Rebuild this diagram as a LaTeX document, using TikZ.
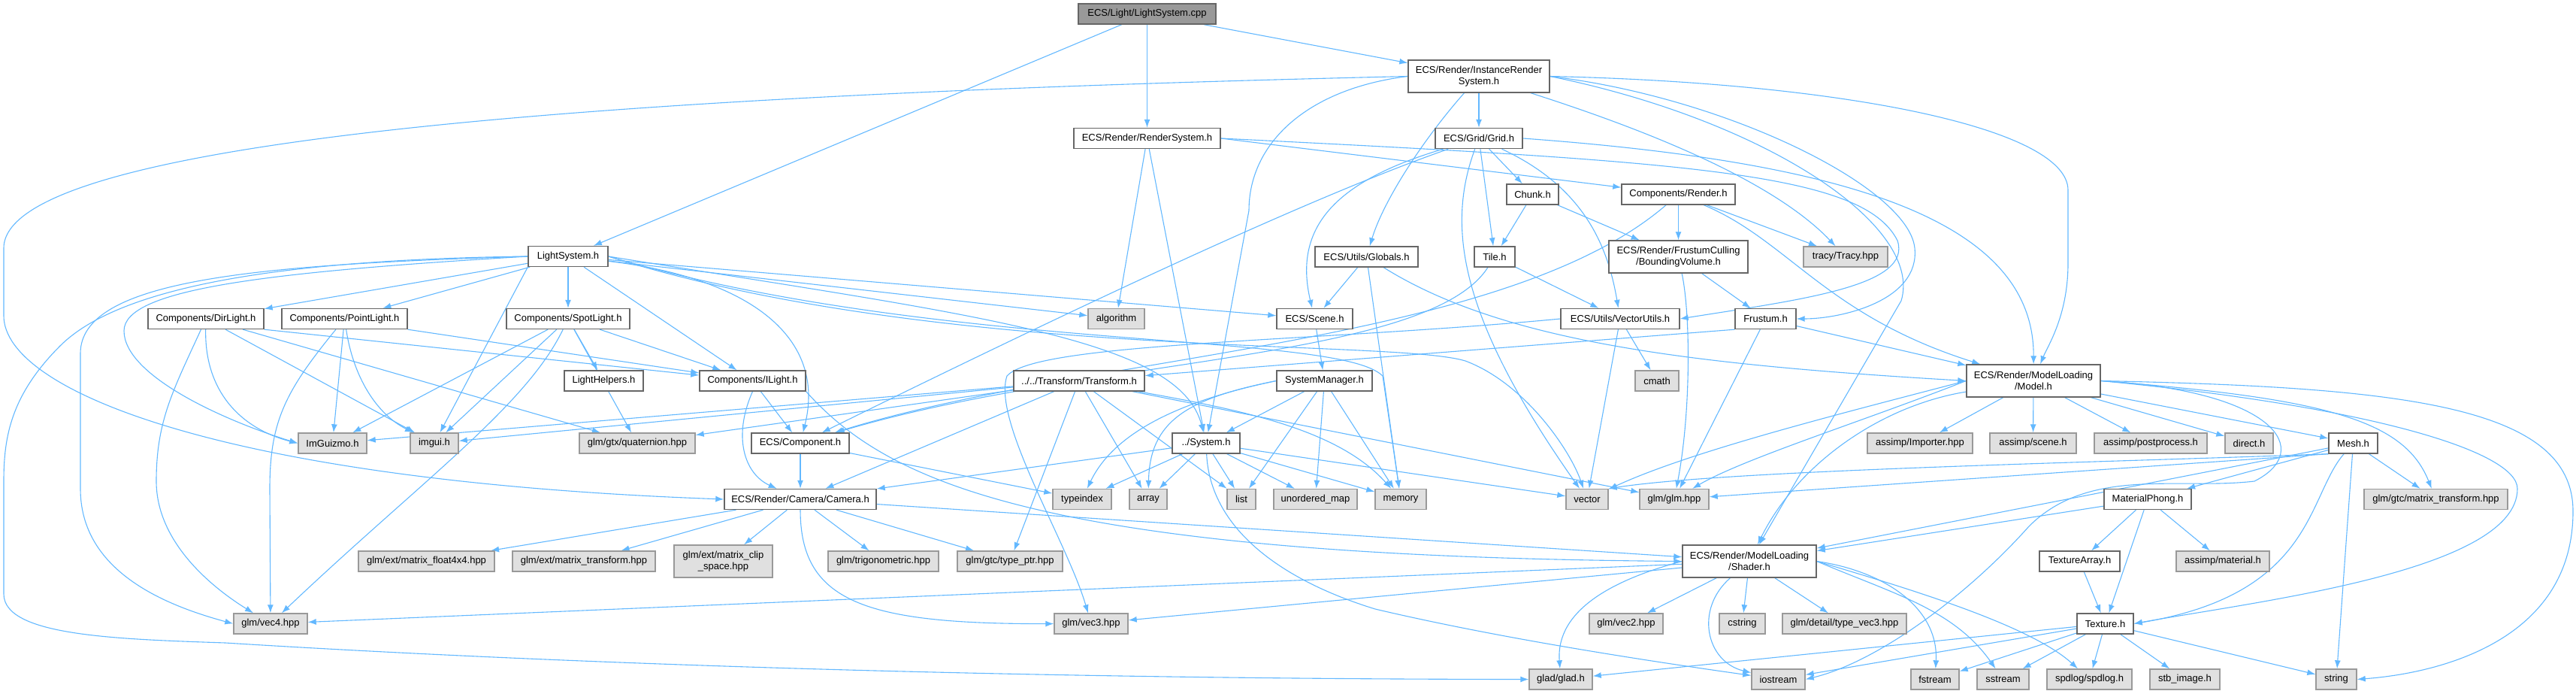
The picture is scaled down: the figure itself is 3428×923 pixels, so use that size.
\documentclass[tikz,border=0pt]{standalone}
\usepackage{fontspec}
\setmainfont{Liberation Sans}
\usepackage{tikz}
\usetikzlibrary{arrows.meta,backgrounds}

\definecolor{edgeblue}{HTML}{63B8FF}
\definecolor{boxline}{HTML}{666666}
\definecolor{sysline}{HTML}{999999}
\definecolor{sysfill}{HTML}{E0E0E0}
\definecolor{rootfill}{HTML}{999999}

\begin{document}
\begin{tikzpicture}[x=1pt, y=-1pt, >={Latex[length=11pt,width=8pt]},
    hdr/.style={rectangle, draw=boxline, fill=white, line width=1.4pt, minimum width=#1, minimum height=27, inner sep=2pt, font=\fontsize{13}{15.5}\selectfont, align=center},
    sys/.style={hdr=#1, draw=sysline, fill=sysfill},
    root/.style={hdr=#1, fill=rootfill},
    tall/.style={minimum height=43},
    ar/.style={->, draw=edgeblue, line width=1.1pt}]
    \useasboundingbox (0,0) rectangle (3428,923);

    % files of the project
    \node[root=183] (cpp) at (1526.5,18.5) {ECS/Light/LightSystem.cpp};
    \node[hdr=188, tall] (IRS) at (1968,101.5) {ECS/Render/InstanceRender\\System.h};
    \node[hdr=195] (RS) at (1526.5,184) {ECS/Render/RenderSystem.h};
    \node[hdr=116] (Grid) at (1968,184) {ECS/Grid/Grid.h};
    \node[hdr=69] (Chunk) at (2039.5,258.5) {Chunk.h};
    \node[hdr=151] (CRender) at (2233.5,258.5) {Components/Render.h};
    \node[hdr=106] (LS) at (756,341) {LightSystem.h};
    \node[hdr=137] (Globals) at (1818.5,341.5) {ECS/Utils/Globals.h};
    \node[hdr=54] (Tile) at (1989,341.5) {Tile.h};
    \node[hdr=185, tall] (BVol) at (2233.5,341.5) {ECS/Render/FrustumCulling\\/BoundingVolume.h};
    \node[hdr=154] (DirL) at (274,424) {Components/DirLight.h};
    \node[hdr=167] (PointL) at (458.5,424) {Components/PointLight.h};
    \node[hdr=164] (SpotL) at (756,424) {Components/SpotLight.h};
    \node[hdr=101] (Scene) at (1749.5,424) {ECS/Scene.h};
    \node[hdr=158] (VecU) at (2156,424) {ECS/Utils/VectorUtils.h};
    \node[hdr=81] (Frustum) at (2349.5,424) {Frustum.h};
    \node[hdr=105] (LHelp) at (803.5,506.5) {LightHelpers.h};
    \node[hdr=141] (ILight) at (1001.5,506.5) {Components/ILight.h};
    \node[hdr=174] (Transf) at (1436,506.5) {../../Transform/Transform.h};
    \node[hdr=127] (SysMgr) at (1762.5,506.5) {SystemManager.h};
    \node[hdr=178, tall] (Model) at (2706,506.5) {ECS/Render/ModelLoading\\/Model.h};
    \node[hdr=130] (Comp) at (1065,589.5) {ECS/Component.h};
    \node[hdr=90] (Sys) at (1605,589.5) {../System.h};
    \node[hdr=65] (Mesh) at (3131.5,589.5) {Mesh.h};
    \node[hdr=202] (Camera) at (1065,664) {ECS/Render/Camera/Camera.h};
    \node[hdr=116] (MatPh) at (2858,664) {MaterialPhong.h};
    \node[hdr=178, tall] (Shader) at (2328,746.5) {ECS/Render/ModelLoading\\/Shader.h};
    \node[hdr=107] (TexArr) at (2767.5,746.5) {TextureArray.h};
    \node[hdr=75] (Texture) at (2801.5,829.5) {Texture.h};

    % system and library headers
    \node[sys=75] (algo) at (1485.5,424) {algorithm};
    \node[sys=112] (tracy) at (2456,341.5) {tracy/Tracy.hpp};
    \node[sys=58] (cmath) at (2205,506.5) {cmath};
    \node[sys=91] (ImGz) at (442.5,589.5) {ImGuizmo.h};
    \node[sys=64] (imgui) at (578,589.5) {imgui.h};
    \node[sys=154] (quat) at (848,589.5) {glm/gtx/quaternion.hpp};
    \node[sys=140] (Importer) at (2555,589.5) {assimp/Importer.hpp};
    \node[sys=115] (aiscene) at (2705.5,589.5) {assimp/scene.h};
    \node[sys=150] (postproc) at (2862,589.5) {assimp/postprocess.h};
    \node[sys=64] (direct) at (2993,589.5) {direct.h};
    \node[sys=78] (typeidx) at (1440,664) {typeindex};
    \node[sys=50] (array) at (1528,664) {array};
    \node[sys=38] (list) at (1652,664) {list};
    \node[sys=111] (umap) at (1750.5,664) {unordered\_map};
    \node[sys=68] (memory) at (1864,664) {memory};
    \node[sys=56] (vector) at (2112,664) {vector};
    \node[sys=92] (glmhpp) at (2228,664) {glm/glm.hpp};
    \node[sys=191] (gtcmt) at (3241.5,664) {glm/gtc/matrix\_transform.hpp};
    \node[sys=181] (mf4x4) at (567.5,746.5) {glm/ext/matrix\_float4x4.hpp};
    \node[sys=190] (extmt) at (777,746.5) {glm/ext/matrix\_transform.hpp};
    \node[sys=131, tall] (clip) at (962.5,746.5) {glm/ext/matrix\_clip\\\_space.hpp};
    \node[sys=147] (trig) at (1175.5,746.5) {glm/trigonometric.hpp};
    \node[sys=140] (typeptr) at (1344,746.5) {glm/gtc/type\_ptr.hpp};
    \node[sys=124] (aimat) at (2958,746.5) {assimp/material.h};
    \node[sys=98] (vec4) at (360,829.5) {glm/vec4.hpp};
    \node[sys=98] (vec3) at (1452,829.5) {glm/vec3.hpp};
    \node[sys=98] (vec2) at (2164,829.5) {glm/vec2.hpp};
    \node[sys=61] (cstring) at (2318.5,829.5) {cstring};
    \node[sys=165] (tvec3) at (2454.5,829.5) {glm/detail/type\_vec3.hpp};
    \node[sys=84] (glad) at (2077,903.5) {glad/glad.h};
    \node[sys=71] (iostream) at (2366.5,903.5) {iostream};
    \node[sys=64] (fstream) at (2575,903.5) {fstream};
    \node[sys=69] (sstream) at (2665.5,903.5) {sstream};
    \node[sys=113] (spdlog) at (2780.5,903.5) {spdlog/spdlog.h};
    \node[sys=93] (stbimg) at (2907.5,903.5) {stb\_image.h};
    \node[sys=54] (string) at (3109,903.5) {string};

    \begin{scope}[on background layer]
    % root file
    \draw[ar] (cpp) -- (LS);
    \draw[ar] (cpp) -- (RS);
    \draw[ar] (cpp) -- (IRS);
    % LightSystem.h
    \draw[ar] (LS) -- (DirL);
    \draw[ar] (LS) -- (PointL);
    \draw[ar] (LS) -- (SpotL);
    \draw[ar] (LS) -- (ILight);
    \draw[ar] (LS) -- (algo);
    \draw[ar] (LS) -- (Scene);
    \draw[ar] (LS.south west) -- (imgui);
    \draw[ar] (LS.west) .. controls (350,362) and (165,385) .. (165,440) .. controls (165,500) and (300,560) .. (ImGz.west);
    \draw[ar] (LS.west) .. controls (340,352) and (107,372) .. (107,470) -- (107,650) .. controls (107,760) and (220,805) .. (vec4.west);
    \draw[ar] (LS.west) .. controls (380,345) and (160,380) .. (80,460) .. controls (15,525) and (5,580) .. (5,640) -- (5,790) .. controls (5,845) and (150,850) .. (300,855) .. controls (700,880) and (1300,903) .. (glad.west);
    \draw[ar] (LS) .. controls (1000,370) and (1100,450) .. (Comp);
    \draw[ar] (LS.east) .. controls (1300,420) and (1570,450) .. (Sys);
    \draw[ar] (LS.east) .. controls (1250,470) and (1780,440) .. (1840,500) -- (memory);
    \draw[ar] (LS.east) .. controls (1250,480) and (1850,450) .. (1950,480) .. controls (2030,510) and (2090,600) .. (vector);
    % RenderSystem.h
    \draw[ar] (RS) -- (algo);
    \draw[ar] (RS) -- (Sys);
    \draw[ar] (RS.east) -- (CRender);
    \draw[ar] (RS.east) .. controls (2250,215) and (2480,230) .. (2525,320) .. controls (2545,380) and (2400,398) .. (VecU.east);
    % InstanceRenderSystem.h
    \draw[ar] (IRS) -- (Grid);
    \draw[ar] (IRS) .. controls (1890,190) and (1840,270) .. (Globals);
    \draw[ar] (IRS) .. controls (2150,160) and (2350,230) .. (tracy);
    \draw[ar] (IRS.west) .. controls (1000,122) and (5,170) .. (5,330) -- (5,420) .. controls (5,520) and (300,640) .. (Camera.west);
    \draw[ar] (IRS.west) .. controls (1740,118) and (1662,190) .. (1662,280) -- (Sys);
    \draw[ar] (IRS.east) .. controls (2450,110) and (2752,170) .. (2752,253) -- (2752,350) .. controls (2752,420) and (2725,460) .. (Model);
    \draw[ar] (IRS.east) .. controls (2300,130) and (2540,250) .. (2548,330) .. controls (2555,400) and (2450,424) .. (Frustum.east);
    \draw[ar] (IRS.east) .. controls (2350,160) and (2560,300) .. (2530,400) -- (Shader);
    % Grid.h
    \draw[ar] (Grid) -- (Chunk);
    \draw[ar] (Grid) -- (Tile);
    \draw[ar] (Grid) .. controls (1780,240) and (1720,300) .. (Scene);
    \draw[ar] (Grid) .. controls (1750,260) and (1450,400) .. (Comp);
    \draw[ar] (Grid) .. controls (2110,250) and (2140,330) .. (VecU);
    \draw[ar] (Grid) .. controls (1925,300) and (1940,420) .. (vector);
    \draw[ar] (Grid.east) .. controls (2450,215) and (2707,290) .. (Model);
    % Chunk.h, Components/Render.h
    \draw[ar] (Chunk) -- (Tile);
    \draw[ar] (Chunk) -- (BVol);
    \draw[ar] (CRender) -- (BVol);
    \draw[ar] (CRender) -- (tracy);
    \draw[ar] (CRender) .. controls (2380,320) and (2430,420) .. (Model);
    \draw[ar] (CRender) .. controls (2000,460) and (1450,470) .. (Comp);
    % Globals.h, Tile.h
    \draw[ar] (Globals) -- (Scene);
    \draw[ar] (Globals) -- (memory);
    \draw[ar] (Globals) .. controls (2000,455) and (2250,485) .. (Model.west);
    \draw[ar] (Tile) -- (VecU);
    \draw[ar] (Tile) .. controls (1900,480) and (1450,475) .. (Comp);
    % BoundingVolume.h, Scene.h, VectorUtils.h, Frustum.h
    \draw[ar] (BVol) -- (Frustum);
    \draw[ar] (BVol) .. controls (2250,420) and (2250,550) .. (glmhpp);
    \draw[ar] (Scene) -- (SysMgr);
    \draw[ar] (VecU) -- (cmath);
    \draw[ar] (VecU) -- (vector);
    \draw[ar] (VecU.west) .. controls (1750,455) and (1380,455) .. (1340,500) .. controls (1320,560) and (1420,720) .. (vec3);
    \draw[ar] (Frustum.south west) -- (Transf);
    \draw[ar] (Frustum) -- (glmhpp);
    \draw[ar] (Frustum) -- (Model);
    % light components
    \draw[ar] (DirL.south east) -- (ILight);
    \draw[ar] (DirL) .. controls (272,520) and (320,570) .. (ImGz.west);
    \draw[ar] (DirL) -- (imgui);
    \draw[ar] (DirL) -- (quat);
    \draw[ar] (DirL) .. controls (230,520) and (208,560) .. (208,640) .. controls (208,720) and (280,780) .. (vec4);
    \draw[ar] (PointL.south east) -- (ILight);
    \draw[ar] (PointL) -- (ImGz);
    \draw[ar] (PointL) .. controls (470,500) and (500,550) .. (imgui);
    \draw[ar] (PointL) .. controls (380,520) and (359,560) .. (359,650) -- (vec4);
    \draw[ar] (SpotL) -- (ILight);
    \draw[ar] (SpotL) -- (LHelp);
    \draw[ar] (SpotL) -- (ImGz);
    \draw[ar] (SpotL) -- (imgui);
    \draw[ar] (SpotL) -- (quat);
    \draw[ar] (SpotL) .. controls (700,540) and (560,640) .. (vec4);
    \draw[ar] (ILight) -- (Comp);
    \draw[ar] (ILight.south) .. controls (975,580) and (990,630) .. (Camera);
    \draw[ar] (ILight.south east) .. controls (1180,640) and (1380,740) .. (Shader.west);
    % Transform.h
    \draw[ar] (Transf) -- (ImGz);
    \draw[ar] (Transf) -- (imgui);
    \draw[ar] (Transf) -- (quat);
    \draw[ar] (Transf) -- (Camera);
    \draw[ar] (Transf) -- (array);
    \draw[ar] (Transf) -- (list);
    \draw[ar] (Transf) -- (typeptr);
    \draw[ar] (Transf) .. controls (1650,545) and (1780,570) .. (memory);
    \draw[ar] (Transf) -- (glmhpp);
    % SystemManager.h, System.h, Component.h
    \draw[ar] (SysMgr) -- (Sys);
    \draw[ar] (SysMgr.west) .. controls (1560,535) and (1480,580) .. (typeidx);
    \draw[ar] (SysMgr.west) .. controls (1580,530) and (1530,560) .. (array);
    \draw[ar] (SysMgr) -- (list);
    \draw[ar] (SysMgr) -- (umap);
    \draw[ar] (SysMgr) -- (memory);
    \draw[ar] (Sys) -- (Camera);
    \draw[ar] (Sys) -- (typeidx);
    \draw[ar] (Sys) -- (array);
    \draw[ar] (Sys) -- (list);
    \draw[ar] (Sys) -- (umap);
    \draw[ar] (Sys) -- (memory);
    \draw[ar] (Sys) -- (vector);
    \draw[ar] (Sys) .. controls (1610,700) and (1700,770) .. (1830,810) .. controls (2000,850) and (2200,880) .. (iostream);
    \draw[ar] (Comp) -- (Camera);
    \draw[ar] (Comp) -- (typeidx);
    % Camera.h
    \draw[ar] (Camera) -- (mf4x4);
    \draw[ar] (Camera) -- (extmt);
    \draw[ar] (Camera) -- (clip);
    \draw[ar] (Camera) -- (trig);
    \draw[ar] (Camera) -- (typeptr);
    \draw[ar] (Camera) .. controls (1065,800) and (1150,830) .. (vec3);
    \draw[ar] (Camera) -- (Shader);
    % Model.h
    \draw[ar] (Model) -- (Importer);
    \draw[ar] (Model) -- (aiscene);
    \draw[ar] (Model) -- (postproc);
    \draw[ar] (Model) -- (direct);
    \draw[ar] (Model) -- (Mesh);
    \draw[ar] (Model.west) .. controls (2450,550) and (2250,600) .. (vector);
    \draw[ar] (Model.west) .. controls (2480,560) and (2320,610) .. (glmhpp);
    \draw[ar] (Model) .. controls (2500,540) and (2390,620) .. (Shader);
    \draw[ar] (Model.east) .. controls (3100,530) and (3200,560) .. (gtcmt);
    \draw[ar] (Model.east) .. controls (3200,515) and (3424,540) .. (3424,680) .. controls (3424,850) and (3250,895) .. (string.east);
    \draw[ar] (Model.east) .. controls (3150,540) and (3350,600) .. (3350,650) .. controls (3350,760) and (3000,800) .. (Texture.east);
    \draw[ar] (Model.east) .. controls (3030,520) and (3080,600) .. (3000,640) .. controls (2900,652) and (2780,620) .. (2700,700) .. controls (2620,790) and (2500,880) .. (iostream.east);
    % Mesh.h, MaterialPhong.h, TextureArray.h
    \draw[ar] (Mesh.south west) .. controls (2800,615) and (2300,625) .. (vector.north east);
    \draw[ar] (Mesh.south west) -- (glmhpp);
    \draw[ar] (Mesh) -- (Shader);
    \draw[ar] (Mesh) -- (MatPh);
    \draw[ar] (Mesh) -- (gtcmt);
    \draw[ar] (Mesh) .. controls (3070,660) and (3080,790) .. (Texture.east);
    \draw[ar] (Mesh) -- (string);
    \draw[ar] (MatPh) -- (Shader);
    \draw[ar] (MatPh) -- (TexArr);
    \draw[ar] (MatPh) -- (aimat);
    \draw[ar] (MatPh) -- (Texture);
    \draw[ar] (TexArr) -- (Texture);
    % Texture.h
    \draw[ar] (Texture) -- (glad);
    \draw[ar] (Texture) -- (iostream);
    \draw[ar] (Texture) -- (fstream);
    \draw[ar] (Texture) -- (sstream);
    \draw[ar] (Texture) -- (spdlog);
    \draw[ar] (Texture) -- (stbimg);
    \draw[ar] (Texture) -- (string);
    % Shader.h
    \draw[ar] (Shader) -- (vec4);
    \draw[ar] (Shader) -- (vec3);
    \draw[ar] (Shader.west) .. controls (2150,770) and (2070,810) .. (glad);
    \draw[ar] (Shader) -- (vec2);
    \draw[ar] (Shader) -- (cstring);
    \draw[ar] (Shader) -- (tvec3);
    \draw[ar] (Shader) .. controls (2255,810) and (2270,880) .. (iostream);
    \draw[ar] (Shader.east) .. controls (2510,760) and (2580,810) .. (fstream);
    \draw[ar] (Shader.east) .. controls (2520,790) and (2600,810) .. (sstream);
    \draw[ar] (Shader.east) .. controls (2530,780) and (2700,830) .. (spdlog);
    \end{scope}
\end{tikzpicture}
\end{document}
